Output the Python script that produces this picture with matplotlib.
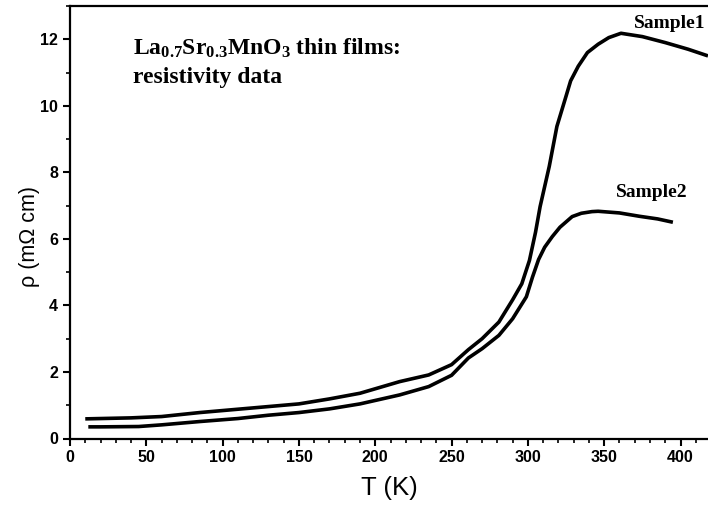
import matplotlib
matplotlib.use("Agg")
import matplotlib.pyplot as plt
from matplotlib.ticker import MultipleLocator

plt.rcParams['mathtext.fontset'] = 'custom'
plt.rcParams['mathtext.rm'] = 'Liberation Serif:bold'
plt.rcParams['mathtext.bf'] = 'Liberation Serif:bold'
plt.rcParams['mathtext.it'] = 'Liberation Serif:bold'

# Sample1 resistivity
T1 = [10, 20, 40, 60, 85, 110, 130, 150, 170, 190, 216, 235, 250, 261, 270,
      281, 290, 296, 301, 305, 308, 314, 319, 325, 328, 333, 339, 346, 353,
      361, 375, 390, 405, 418]
rho1 = [0.59, 0.60, 0.62, 0.66, 0.78, 0.88, 0.96, 1.04, 1.19, 1.36, 1.71, 1.91,
        2.22, 2.67, 3.0, 3.5, 4.17, 4.65, 5.35, 6.2, 6.97, 8.18, 9.38, 10.29,
        10.75, 11.19, 11.6, 11.85, 12.05, 12.18, 12.08, 11.9, 11.7, 11.5]

# Sample2
T2 = [12, 20, 45, 60, 85, 110, 130, 150, 170, 190, 216, 235, 250, 261, 270,
      281, 290, 299, 303, 307, 311, 316, 321, 329, 335, 342, 346, 360, 373,
      385, 395]
rho2 = [0.35, 0.35, 0.36, 0.41, 0.51, 0.60, 0.70, 0.78, 0.89, 1.04, 1.31, 1.56,
        1.9, 2.42, 2.7, 3.1, 3.6, 4.26, 4.85, 5.38, 5.75, 6.07, 6.35, 6.67,
        6.77, 6.82, 6.83, 6.78, 6.68, 6.6, 6.5]

fig = plt.figure(figsize=(7.08, 5.05), dpi=100)
ax = fig.add_axes([70/708, 66.5/505, 1 - 70/708, 432.5/505])

ax.plot(T1, rho1, color='black', lw=2.6, solid_capstyle='butt')
ax.plot(T2, rho2, color='black', lw=2.6, solid_capstyle='butt')

ax.set_xlim(0, 418)
ax.set_ylim(0, 13)
ax.xaxis.set_major_locator(MultipleLocator(50))
ax.xaxis.set_minor_locator(MultipleLocator(10))
ax.yaxis.set_major_locator(MultipleLocator(2))
ax.yaxis.set_minor_locator(MultipleLocator(1))
ax.tick_params(which='major', direction='out', length=5, width=1.5,
               labelsize=11.5)
ax.tick_params(which='minor', direction='out', length=3, width=1.2)
for lab in ax.get_xticklabels() + ax.get_yticklabels():
    lab.set_fontfamily('Liberation Sans')
    lab.set_fontweight('bold')

for s in ['left', 'bottom', 'top']:
    ax.spines[s].set_linewidth(1.6)
ax.spines['right'].set_visible(False)

ax.set_xlabel('T (K)', fontsize=18.5, family='Liberation Sans', labelpad=8)
ax.set_ylabel('ρ (mΩ cm)', fontsize=15.5, family='Liberation Sans')
ax.yaxis.set_label_coords(-0.047, 0.468)

ax.text(0.0987, 0.887, 'La$_{0.7}$Sr$_{0.3}$MnO$_{3}$ thin films:',
        transform=ax.transAxes, fontsize=17, family='Liberation Serif',
        fontweight='bold', va='baseline')
ax.text(0.0987, 0.822, 'resistivity data', transform=ax.transAxes,
        fontsize=17, family='Liberation Serif', fontweight='bold',
        va='baseline')
ax.text(393, 12.35, 'Sample1', fontsize=14, family='Liberation Serif',
        fontweight='bold', ha='center', va='baseline')
ax.text(381, 7.25, 'Sample2', fontsize=14, family='Liberation Serif',
        fontweight='bold', ha='center', va='baseline')

fig.savefig('out.png', dpi=100)
